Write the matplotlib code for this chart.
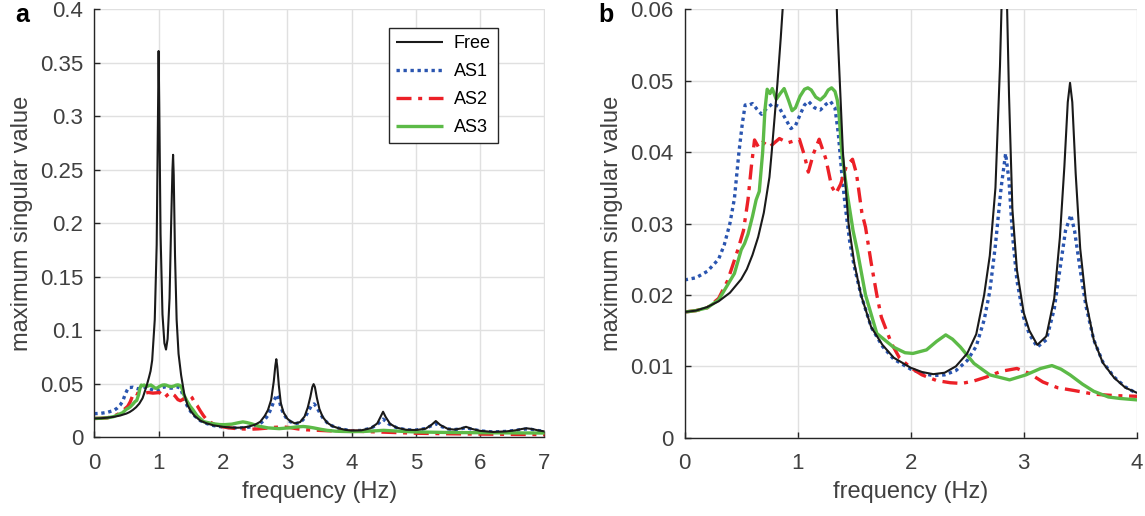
import matplotlib
matplotlib.use("Agg")
import matplotlib.pyplot as plt

plt.rcParams['font.family'] = ['Liberation Sans', 'DejaVu Sans']

# ---------------- data ----------------
free_f = [0, 0.1, 0.2, 0.3, 0.4, 0.5, 0.55, 0.6, 0.65, 0.7, 0.75, 0.77, 0.82, 0.85, 0.875,
          0.9, 0.94, 0.97, 0.99, 1.0, 1.01, 1.03, 1.06, 1.09, 1.115, 1.14, 1.17, 1.195,
          1.215, 1.225, 1.235, 1.255, 1.28, 1.31, 1.35, 1.4, 1.45, 1.5, 1.56, 1.65, 1.75,
          1.85, 2.0, 2.1, 2.2, 2.3, 2.4, 2.5, 2.58, 2.65, 2.7, 2.75, 2.79, 2.815, 2.83,
          2.845, 2.87, 2.9, 2.94, 3.0, 3.05, 3.12, 3.2, 3.27, 3.32, 3.36, 3.39, 3.41,
          3.43, 3.46, 3.5, 3.55, 3.62, 3.7, 3.8, 3.9, 4.0, 4.15, 4.3, 4.4, 4.45, 4.49,
          4.53, 4.6, 4.7, 4.85, 5.0, 5.15, 5.24, 5.31, 5.38, 5.5, 5.6, 5.7, 5.78, 5.86,
          6.0, 6.2, 6.4, 6.55, 6.65, 6.72, 6.8, 6.9, 7.0]
free_v = [0.0176, 0.0178, 0.0183, 0.0191, 0.0203, 0.0222, 0.0236, 0.0256, 0.0281, 0.0315,
          0.0365, 0.040, 0.0495, 0.056, 0.062, 0.072, 0.11, 0.18, 0.30, 0.361, 0.31, 0.19,
          0.115, 0.088, 0.082, 0.092, 0.13, 0.20, 0.25, 0.264, 0.245, 0.17, 0.11, 0.078,
          0.058, 0.040, 0.030, 0.0245, 0.020, 0.0155, 0.0130, 0.0112, 0.0098, 0.0092,
          0.0089, 0.0091, 0.0100, 0.0118, 0.0145, 0.020, 0.0255, 0.035, 0.052, 0.067,
          0.073, 0.066, 0.048, 0.032, 0.0235, 0.0175, 0.0150, 0.0130, 0.0142, 0.0195,
          0.028, 0.038, 0.047, 0.0497, 0.047, 0.037, 0.0265, 0.0192, 0.0137, 0.0105,
          0.0084, 0.0070, 0.0063, 0.0065, 0.0085, 0.0130, 0.019, 0.0239, 0.019, 0.0125,
          0.0090, 0.0070, 0.0068, 0.0080, 0.0115, 0.0152, 0.0115, 0.0078, 0.0072, 0.0082,
          0.0098, 0.0080, 0.0060, 0.0050, 0.0055, 0.0065, 0.0078, 0.0084, 0.0078, 0.0065,
          0.0055]

as1_f = [0, 0.1, 0.2, 0.3, 0.35, 0.4, 0.44, 0.48, 0.51, 0.535, 0.57, 0.6, 0.64, 0.68,
         0.73, 0.78, 0.83, 0.88, 0.94, 0.98, 1.02, 1.06, 1.095, 1.15, 1.2, 1.25, 1.29,
         1.33, 1.36, 1.39, 1.42, 1.46, 1.5, 1.56, 1.65, 1.75, 1.85, 2.0, 2.1, 2.2, 2.3,
         2.4, 2.5, 2.58, 2.65, 2.7, 2.75, 2.8, 2.84, 2.87, 2.9, 2.94, 3.0, 3.05, 3.12,
         3.2, 3.27, 3.32, 3.37, 3.417, 3.45, 3.5, 3.55, 3.62, 3.7, 3.8, 3.9, 4.0, 4.15,
         4.3, 4.4, 4.49, 4.58, 4.7, 4.85, 5.0, 5.15, 5.24, 5.31, 5.38, 5.5, 5.6, 5.7,
         5.78, 5.86, 6.0, 6.2, 6.4, 6.55, 6.65, 6.72, 6.8, 6.9, 7.0]
as1_v = [0.0221, 0.0224, 0.0233, 0.0250, 0.0270, 0.0300, 0.0335, 0.040, 0.044, 0.0466,
         0.0466, 0.0468, 0.0460, 0.0453, 0.0462, 0.0468, 0.0464, 0.0450, 0.0433, 0.0437,
         0.0452, 0.0466, 0.0471, 0.0462, 0.0459, 0.0467, 0.0471, 0.0462, 0.0425, 0.037,
         0.0325, 0.0275, 0.0240, 0.020, 0.0155, 0.0128, 0.0110, 0.0096, 0.0090, 0.0087,
         0.0088, 0.0094, 0.0108, 0.0128, 0.0165, 0.0205, 0.027, 0.035, 0.0398, 0.036,
         0.0285, 0.022, 0.0168, 0.0145, 0.0127, 0.0137, 0.018, 0.0235, 0.029, 0.0312,
         0.029, 0.0235, 0.0185, 0.0137, 0.0106, 0.0085, 0.0071, 0.0062, 0.0064, 0.0085,
         0.0120, 0.0170, 0.0125, 0.0090, 0.0070, 0.0068, 0.0082, 0.0108, 0.0128, 0.0105,
         0.0078, 0.0072, 0.0080, 0.0090, 0.0078, 0.0060, 0.0050, 0.0055, 0.0065, 0.0074,
         0.0078, 0.0074, 0.0063, 0.0055]

as2_f = [0, 0.1, 0.2, 0.3, 0.38, 0.47, 0.52, 0.56, 0.59, 0.618, 0.653, 0.691, 0.75,
         0.838, 0.912, 1.015, 1.06, 1.094, 1.14, 1.19, 1.25, 1.3, 1.338, 1.38, 1.43,
         1.485, 1.52, 1.568, 1.6, 1.65, 1.7, 1.74, 1.83, 1.9, 2.0, 2.1, 2.23, 2.35, 2.45,
         2.55, 2.67, 2.8, 2.94, 3.05, 3.17, 3.3, 3.45, 3.62, 3.8, 4.0, 4.5, 5.0, 5.5, 6.0,
         6.5, 7.0]
as2_v = [0.0176, 0.0178, 0.0182, 0.0195, 0.022, 0.0263, 0.0290, 0.0333, 0.038, 0.0417,
         0.0407, 0.0414, 0.0407, 0.0419, 0.0413, 0.0418, 0.0395, 0.0372, 0.0398, 0.0418,
         0.0390, 0.0352, 0.0342, 0.0355, 0.0380, 0.0390, 0.0370, 0.0315, 0.0295, 0.0245,
         0.0200, 0.0169, 0.0132, 0.0112, 0.0098, 0.0088, 0.0080, 0.0077, 0.0076, 0.0079,
         0.0085, 0.0093, 0.0097, 0.0090, 0.0078, 0.0070, 0.0066, 0.0061, 0.0059, 0.0058,
         0.0048, 0.0038, 0.0033, 0.0030, 0.0027, 0.0025]

as3_f = [0, 0.1, 0.2, 0.3, 0.44, 0.5, 0.53, 0.56, 0.6, 0.632, 0.66, 0.69, 0.71, 0.73,
         0.755, 0.775, 0.81, 0.85, 0.88, 0.92, 0.95, 0.98, 1.02, 1.06, 1.09, 1.12, 1.16,
         1.2, 1.24, 1.27, 1.30, 1.33, 1.35, 1.365, 1.39, 1.44, 1.49, 1.53, 1.6, 1.7,
         1.846, 1.95, 2.02, 2.14, 2.23, 2.31, 2.37, 2.44, 2.56, 2.7, 2.875, 3.02, 3.15,
         3.25, 3.33, 3.41, 3.52, 3.62, 3.75, 3.85, 4.0, 4.2, 4.5, 4.8, 5.0, 5.5, 6.0,
         6.5, 7.0]
as3_v = [0.0176, 0.0178, 0.0182, 0.0193, 0.023, 0.0263, 0.0272, 0.0285, 0.0310, 0.0333,
         0.0345, 0.040, 0.0459, 0.0488, 0.0482, 0.0489, 0.0474, 0.0483, 0.0489, 0.0472,
         0.0458, 0.0462, 0.0478, 0.0488, 0.0490, 0.0487, 0.0477, 0.0473, 0.0479, 0.0487,
         0.0490, 0.0485, 0.0473, 0.0455, 0.040, 0.034, 0.029, 0.026, 0.020, 0.0146,
         0.0127, 0.0119, 0.0118, 0.0123, 0.0135, 0.0144, 0.0138, 0.0127, 0.0104, 0.0088,
         0.0081, 0.0088, 0.0097, 0.0101, 0.0096, 0.0088, 0.0075, 0.0065, 0.0057, 0.0055,
         0.0053, 0.0055, 0.0065, 0.0055, 0.0050, 0.0045, 0.0043, 0.0041, 0.0040]

series_names = ["Free", "AS1", "AS2", "AS3"]
ticks_a_x = [0, 1, 2, 3, 4, 5, 6, 7]
ticks_a_y = [0, 0.05, 0.1, 0.15, 0.2, 0.25, 0.3, 0.35, 0.4]
labels_a_y = ["0", "0.05", "0.1", "0.15", "0.2", "0.25", "0.3", "0.35", "0.4"]
ticks_b_x = [0, 1, 2, 3, 4]
ticks_b_y = [0, 0.01, 0.02, 0.03, 0.04, 0.05, 0.06]
labels_b_y = ["0", "0.01", "0.02", "0.03", "0.04", "0.05", "0.06"]

# ---------------- figure ----------------
fig = plt.figure(figsize=(11.45, 5.16), dpi=100)
W, H = 1145.0, 516.0
ax_a = fig.add_axes([94.3 / W, (H - 437.3) / H, (544.5 - 94.3) / W, (437.3 - 9.3) / H])
ax_b = fig.add_axes([684.7 / W, (H - 437.7) / H, (1136.7 - 684.7) / W, (437.7 - 9.3) / H])

styles = [
    dict(color="#1a1a1a", lw=1.5, ls="-"),
    dict(color="#2a55b0", lw=2.4, ls=(0, (1, 1.1))),
    dict(color="#ec2027", lw=2.4, ls=(0, (4.5, 2, 1.2, 2))),
    dict(color="#5cba47", lw=2.4, ls="-"),
]
data = [(free_f, free_v), (as1_f, as1_v), (as2_f, as2_v), (as3_f, as3_v)]

tc = "#404040"
for ax, xl, yl, xt, yt, ytl in [
    (ax_a, 7, 0.4, ticks_a_x, ticks_a_y, labels_a_y),
    (ax_b, 4, 0.06, ticks_b_x, ticks_b_y, labels_b_y),
]:
    for i in [0, 1, 2, 3]:
        f, v = data[i]
        ax.plot(f, v, label=series_names[i], solid_capstyle="butt",
                solid_joinstyle="round", zorder=3 if i == 0 else 2, **styles[i])
    ax.set_xlim(0, xl)
    ax.set_ylim(0, yl)
    ax.set_xticks(xt)
    ax.set_yticks(yt)
    ax.set_yticklabels(ytl)
    ax.grid(True, color="#e0e0e0", lw=1.0)
    ax.set_axisbelow(True)
    for s in ["top", "right"]:
        ax.spines[s].set_visible(False)
    for s in ["left", "bottom"]:
        ax.spines[s].set_color("#262626")
        ax.spines[s].set_linewidth(1.0)
    ax.tick_params(direction="in", length=4, width=1, colors="#262626",
                   labelcolor=tc, labelsize=16)
    ax.tick_params(axis="x", pad=11)
    ax.tick_params(axis="y", pad=8)
    ax.set_xlabel("frequency (Hz)", fontsize=17, color=tc, labelpad=5)
    ax.set_ylabel("maximum singular value", fontsize=17, color=tc, labelpad=5)

leg = ax_a.legend(loc="upper right", bbox_to_anchor=(0.897, 0.956), borderaxespad=0,
                  fancybox=False, framealpha=1, edgecolor="#262626", fontsize=13,
                  handlelength=2.6, borderpad=0.4, labelspacing=0.6, handletextpad=0.6)
leg.get_frame().set_linewidth(1.0)

fig.text(15 / W, 1 - 15 / H, "a", fontsize=18, fontweight="bold", va="center", ha="left")
fig.text(598 / W, 1 - 15 / H, "b", fontsize=18, fontweight="bold", va="center", ha="left")

fig.savefig("out.png", dpi=100)
